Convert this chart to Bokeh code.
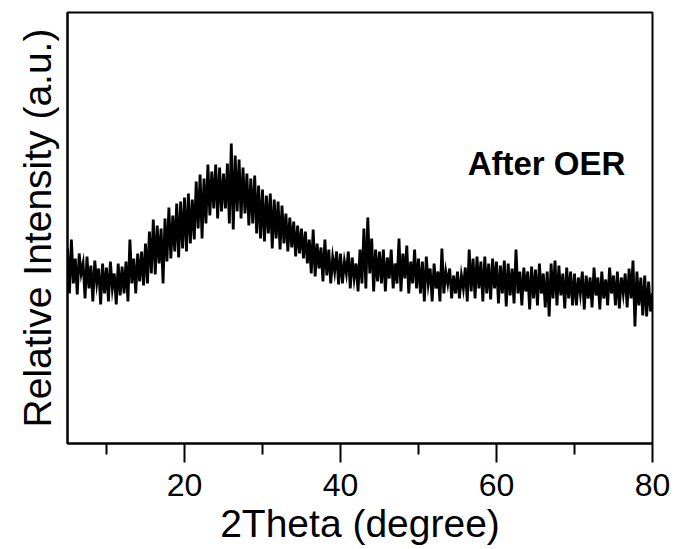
from bokeh.plotting import figure
from bokeh.models import Range1d, FixedTicker, ColumnDataSource
from bokeh.core.properties import value
from bokeh.embed import file_html
from bokeh.resources import INLINE

# 2Theta start / step (degrees); intensities (arbitrary units)
theta_start = 5.0
theta_step = 0.25
intensity = [
    # 5.00 - 9.75
    195, 150, 204, 160, 185, 149, 190, 170, 180, 145, 187, 155, 178, 142, 183, 160, 175, 139, 180, 150,
    # 10.00 - 14.75
    176, 142, 182, 155, 170, 139, 180, 148, 177, 150, 182, 142, 204, 160, 185, 150, 190, 162, 192, 158,
    # 15.00 - 19.75
    200, 160, 212, 170, 224, 169, 218, 180, 215, 160, 225, 182, 236, 185, 228, 192, 240, 186, 242, 195,
    # 20.00 - 24.75
    246, 192, 250, 200, 244, 204, 262, 215, 269, 205, 265, 220, 279, 228, 272, 235, 279, 225, 276, 232,
    # 25.00 - 29.75
    270, 235, 280, 220, 300, 214, 288, 232, 284, 225, 276, 230, 270, 218, 265, 220, 268, 210, 258, 205,
    # 30.00 - 34.75
    254, 202, 248, 210, 250, 195, 244, 205, 242, 194, 238, 200, 230, 192, 226, 196, 222, 187, 218, 190,
    # 35.00 - 39.75
    215, 185, 212, 180, 204, 170, 214, 167, 200, 175, 196, 162, 204, 168, 194, 160, 186, 172, 192, 159,
    # 40.00 - 44.75
    190, 160, 182, 170, 192, 155, 186, 165, 180, 152, 194, 160, 215, 155, 226, 170, 205, 152, 194, 162,
    # 45.00 - 49.75
    192, 160, 194, 152, 186, 165, 194, 155, 180, 160, 205, 152, 190, 165, 198, 150, 182, 160, 194, 155,
    # 50.00 - 54.75
    185, 150, 182, 142, 187, 160, 175, 142, 180, 155, 172, 142, 195, 150, 172, 160, 175, 145, 168, 150,
    # 55.00 - 59.75
    172, 145, 168, 155, 176, 142, 194, 152, 185, 145, 187, 155, 182, 142, 187, 150, 180, 144, 185, 155,
    # 60.00 - 64.75
    182, 140, 178, 150, 183, 137, 180, 148, 175, 140, 194, 150, 172, 138, 176, 152, 172, 134, 177, 145,
    # 65.00 - 69.75
    174, 138, 180, 150, 170, 136, 172, 127, 180, 145, 183, 138, 178, 148, 170, 135, 176, 145, 172, 138,
    # 70.00 - 74.75
    170, 138, 166, 150, 172, 134, 168, 145, 166, 136, 176, 148, 166, 134, 172, 145, 164, 138, 176, 150,
    # 75.00 - 79.75
    168, 138, 172, 135, 166, 150, 170, 136, 175, 145, 183, 117, 172, 138, 166, 128, 168, 127, 162, 132,
    # 80.00
    150,
]
two_theta = [theta_start + i * theta_step for i in range(len(intensity))]

x_ticks = [20, 40, 60, 80]
x_minor_ticks = [10, 30, 50, 70]
annotation = "After OER"
x_title = "2Theta (degree)"
y_title = "Relative Intensity (a.u.)"

FONT = "Liberation Sans"

p = figure(width=675, height=549, output_backend="svg", toolbar_location=None,
           x_range=Range1d(5, 80), y_range=Range1d(0, 431),
           min_border_left=67, min_border_right=23, min_border_top=12, min_border_bottom=106)
p.background_fill_color = "white"
p.border_fill_color = "white"
p.grid.visible = False
p.outline_line_color = "black"
p.outline_line_width = 2

src = ColumnDataSource(dict(x=two_theta, y=intensity))
p.line("x", "y", source=src, line_color="black", line_width=2.8, line_join="miter")

p.text(x=[56.3], y=[280], text=[annotation], text_font=value(FONT), text_font_style="bold",
       text_font_size="33px", text_baseline="alphabetic", text_align="left", text_color="black")

xa = p.xaxis[0]
xa.ticker = FixedTicker(ticks=x_ticks, minor_ticks=x_minor_ticks)
xa.axis_line_width = 2
xa.major_tick_line_width = 2
xa.minor_tick_line_width = 2
xa.major_tick_out = 19
xa.major_tick_in = 0
xa.minor_tick_out = 11
xa.minor_tick_in = 0
xa.major_label_text_font = FONT
xa.major_label_text_font_size = "32px"
xa.major_label_text_color = "black"
xa.major_label_standoff = 11
xa.axis_label = x_title
xa.axis_label_text_font = FONT
xa.axis_label_text_font_size = "39px"
xa.axis_label_text_font_style = "normal"
xa.axis_label_text_color = "black"
xa.axis_label_standoff = 3

ya = p.yaxis[0]
ya.ticker = FixedTicker(ticks=[])
ya.axis_line_width = 2
ya.major_tick_line_color = None
ya.minor_tick_line_color = None
ya.major_label_text_font_size = "0px"
ya.axis_label = y_title
ya.axis_label_text_font = FONT
ya.axis_label_text_font_size = "39px"
ya.axis_label_text_font_style = "normal"
ya.axis_label_text_color = "black"
ya.axis_label_standoff = 9

open("out.html", "w").write(file_html(p, INLINE))
